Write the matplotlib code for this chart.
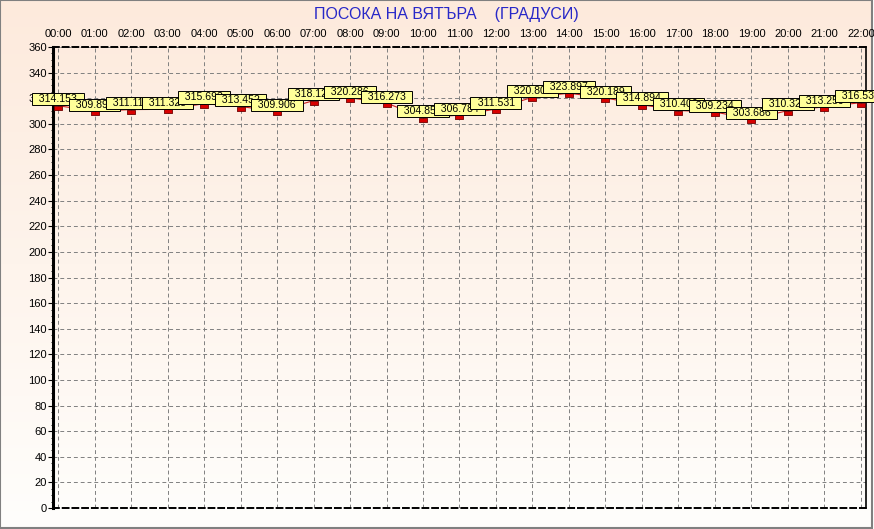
import numpy as np
import matplotlib
matplotlib.use("Agg")
import matplotlib.pyplot as plt
from matplotlib.patches import Rectangle
from matplotlib.transforms import ScaledTranslation

plt.rcParams['font.family'] = ['Liberation Sans', 'DejaVu Sans']

# Hourly wind direction (degrees)
hours = ['00:00', '01:00', '02:00', '03:00', '04:00', '05:00', '06:00', '07:00',
         '08:00', '09:00', '10:00', '11:00', '12:00', '13:00', '14:00', '15:00',
         '16:00', '17:00', '18:00', '19:00', '20:00', '21:00', '22:00']
direction = [314.153, 309.894, 311.117, 311.325, 315.693, 313.452, 309.906, 318.124,
             320.286, 316.273, 304.853, 306.784, 311.531, 320.805, 323.897, 320.189,
             314.894, 310.406, 309.234, 303.686, 310.327, 313.259, 316.539]
y_ticks = list(range(0, 361, 20))
title = 'ПОСОКА НА ВЯТЪРА    (ГРАДУСИ)'

fig = plt.figure(figsize=(8.74, 5.29), dpi=100)
fig.patch.set_facecolor('white')

# background: peach to white gradient, with a grey frame at bottom/right
bg = fig.add_axes([0, 1 - 528 / 529, 872 / 874, 528 / 529], zorder=-10)
top = np.array([253, 234, 220]) / 255.0
bot = np.array([255, 254, 252]) / 255.0
t = np.linspace(0, 1, 256)[:, None]
grad = (top * (1 - t) + bot * t)[:, None, :]
bg.imshow(grad, aspect='auto', extent=[0, 1, 0, 1], origin='upper')
bg.set_xlim(0, 1)
bg.set_ylim(0, 1)
bg.axis('off')
bg.add_patch(Rectangle((0, 0), 1, 1, fill=False, edgecolor='#808080', lw=1.5,
                       transform=bg.transAxes, clip_on=False))

ax = fig.add_axes([53 / 874, 21 / 529, 813 / 874, 461 / 529])
ax.patch.set_alpha(0)

x = np.arange(len(hours))
ax.plot(x, direction, color='#cc2020', lw=0.8, zorder=3)
# markers sit just below the value point
shift = ax.transData + ScaledTranslation(0, -2 / 100, fig.dpi_scale_trans)
mark = [(-1, -0.5), (1, -0.5), (1, 0.5), (-1, 0.5), (-1, -0.5)]
ax.plot(x, direction, ls='none', marker=mark, ms=6, mfc='#d80000',
        mec='#700000', mew=0.6, zorder=4, transform=shift)

for i, (xi, v) in enumerate(zip(x, direction)):
    ax.text(xi, v + 1.0, f'  {v:.3f}  ', ha='center', va='bottom', fontsize=7.6,
            zorder=10 + i,
            bbox=dict(boxstyle='square,pad=0.1', fc='#ffff99', ec='black', lw=0.7))

ax.set_xlim(-0.14, 22.14)
ax.set_ylim(0, 360)
ax.set_xticks(x)
ax.set_xticklabels(hours)
ax.set_yticks(y_ticks)
ax.set_yticks(range(0, 361, 5), minor=True)
ax.xaxis.tick_top()
ax.tick_params(axis='x', length=0, pad=6, labelsize=8)
ax.tick_params(axis='y', which='major', length=3.5, width=0.8, pad=1, labelsize=8)
ax.tick_params(axis='y', which='minor', length=1.5, width=0.6)

ax.grid(True, color='#808080', lw=0.7, ls=(0, (4, 3)))
ax.set_axisbelow(True)

ax.spines['left'].set_linewidth(2.2)
ax.spines['right'].set_linewidth(1.2)
for s in ['top', 'bottom']:
    ax.spines[s].set_linewidth(1.4)
    ax.spines[s].set_linestyle((0, (3, 2)))

fig.text(446 / 874, 1 - 14 / 529, title, ha='center', va='center',
         fontsize=11.5, color='#2828c8')

fig.savefig('out.png', dpi=100)
